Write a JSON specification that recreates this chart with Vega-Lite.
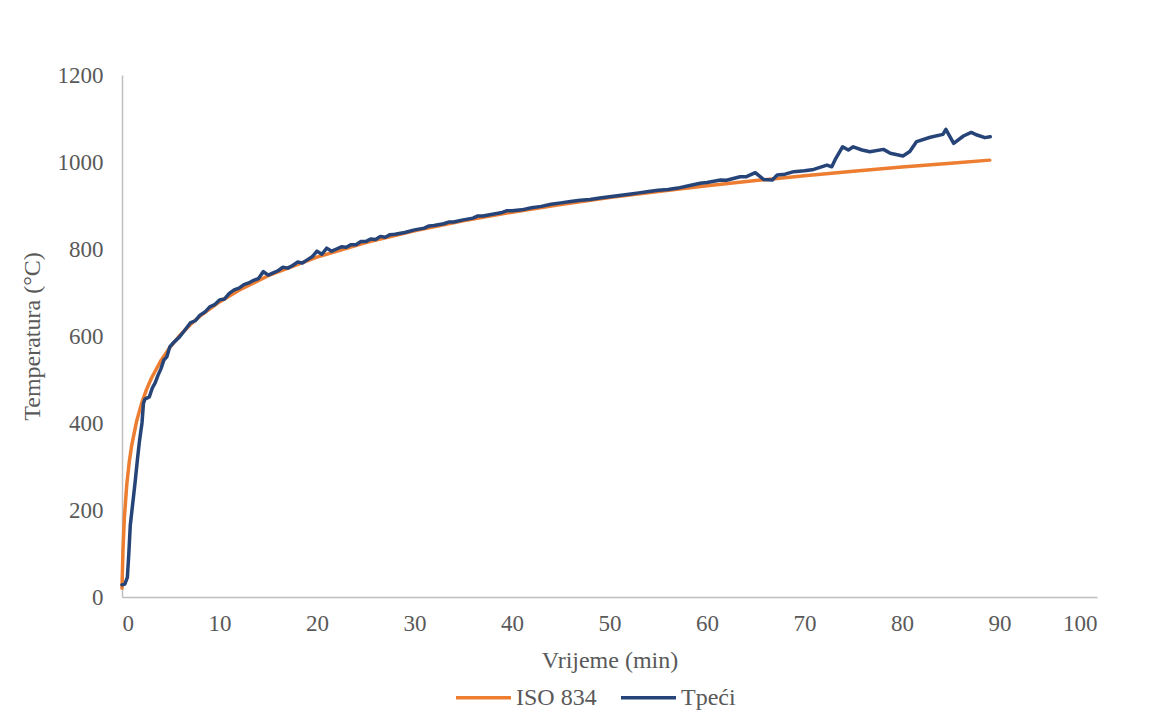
{
  "$schema": "https://vega.github.io/schema/vega-lite/v6.json",
  "width": 975,
  "height": 522,
  "autosize": {"type": "none"},
  "padding": {"left": 122, "top": 75, "right": 63, "bottom": 129},
  "background": "white",
  "config": {
    "view": {"stroke": null},
    "font": "Liberation Serif",
    "axis": {
      "labelFont": "Liberation Serif",
      "titleFont": "Liberation Serif",
      "labelColor": "#595959",
      "titleColor": "#595959",
      "labelFontSize": 23,
      "titleFontSize": 24,
      "titleFontWeight": "normal",
      "domainColor": "#bfbfbf",
      "domainWidth": 1.5,
      "ticks": false,
      "grid": false
    },
    "legend": {
      "labelFont": "Liberation Serif",
      "labelFontSize": 24,
      "labelColor": "#595959"
    },
    "text": {"font": "Liberation Serif"}
  },
  "data": {
    "values": [
      {"series": "ISO 834", "t": 0, "T": 20},
      {"series": "ISO 834", "t": 0.1, "T": 108.1},
      {"series": "ISO 834", "t": 0.25, "T": 184.6},
      {"series": "ISO 834", "t": 0.5, "T": 261.2},
      {"series": "ISO 834", "t": 0.75, "T": 311.6},
      {"series": "ISO 834", "t": 1, "T": 349.2},
      {"series": "ISO 834", "t": 1.5, "T": 404.3},
      {"series": "ISO 834", "t": 2, "T": 444.5},
      {"series": "ISO 834", "t": 2.5, "T": 476.2},
      {"series": "ISO 834", "t": 3, "T": 502.3},
      {"series": "ISO 834", "t": 4, "T": 543.9},
      {"series": "ISO 834", "t": 5, "T": 576.4},
      {"series": "ISO 834", "t": 6, "T": 603.1},
      {"series": "ISO 834", "t": 7, "T": 625.8},
      {"series": "ISO 834", "t": 8, "T": 645.5},
      {"series": "ISO 834", "t": 10, "T": 678.4},
      {"series": "ISO 834", "t": 12, "T": 705.4},
      {"series": "ISO 834", "t": 15, "T": 738.6},
      {"series": "ISO 834", "t": 20, "T": 781.3},
      {"series": "ISO 834", "t": 25, "T": 814.6},
      {"series": "ISO 834", "t": 30, "T": 841.8},
      {"series": "ISO 834", "t": 35, "T": 864.8},
      {"series": "ISO 834", "t": 40, "T": 884.7},
      {"series": "ISO 834", "t": 45, "T": 902.3},
      {"series": "ISO 834", "t": 50, "T": 918.1},
      {"series": "ISO 834", "t": 55, "T": 932.3},
      {"series": "ISO 834", "t": 60, "T": 945.3},
      {"series": "ISO 834", "t": 65, "T": 957.3},
      {"series": "ISO 834", "t": 70, "T": 968.4},
      {"series": "ISO 834", "t": 75, "T": 978.7},
      {"series": "ISO 834", "t": 80, "T": 988.4},
      {"series": "ISO 834", "t": 85, "T": 997.4},
      {"series": "ISO 834", "t": 89, "T": 1004.3},

      {"series": "Tpeći", "t": 0, "T": 28},
      {"series": "Tpeći", "t": 0.3, "T": 30},
      {"series": "Tpeći", "t": 0.55, "T": 45},
      {"series": "Tpeći", "t": 0.7, "T": 100},
      {"series": "Tpeći", "t": 0.85, "T": 165},
      {"series": "Tpeći", "t": 1.1, "T": 215},
      {"series": "Tpeći", "t": 1.35, "T": 265},
      {"series": "Tpeći", "t": 1.6, "T": 320},
      {"series": "Tpeći", "t": 1.8, "T": 360},
      {"series": "Tpeći", "t": 2.05, "T": 400},
      {"series": "Tpeći", "t": 2.2, "T": 445},
      {"series": "Tpeći", "t": 2.35, "T": 455},
      {"series": "Tpeći", "t": 2.8, "T": 460},
      {"series": "Tpeći", "t": 3.1, "T": 480},
      {"series": "Tpeći", "t": 3.4, "T": 492},
      {"series": "Tpeći", "t": 3.7, "T": 510},
      {"series": "Tpeći", "t": 4.0, "T": 525},
      {"series": "Tpeći", "t": 4.3, "T": 545},
      {"series": "Tpeći", "t": 4.6, "T": 552},
      {"series": "Tpeći", "t": 4.9, "T": 575},
      {"series": "Tpeći", "t": 5.3, "T": 585},
      {"series": "Tpeći", "t": 5.9, "T": 598},
      {"series": "Tpeći", "t": 6.4, "T": 612},
      {"series": "Tpeći", "t": 7.0, "T": 630},
      {"series": "Tpeći", "t": 7.5, "T": 635},
      {"series": "Tpeći", "t": 8.0, "T": 648},
      {"series": "Tpeći", "t": 8.5, "T": 655},
      {"series": "Tpeći", "t": 9.0, "T": 667},
      {"series": "Tpeći", "t": 9.5, "T": 672},
      {"series": "Tpeći", "t": 10, "T": 683},
      {"series": "Tpeći", "t": 10.5, "T": 685},
      {"series": "Tpeći", "t": 11, "T": 698},
      {"series": "Tpeći", "t": 11.5, "T": 706},
      {"series": "Tpeći", "t": 12, "T": 710},
      {"series": "Tpeći", "t": 12.5, "T": 718},
      {"series": "Tpeći", "t": 13, "T": 722},
      {"series": "Tpeći", "t": 13.5, "T": 728},
      {"series": "Tpeći", "t": 14, "T": 732},
      {"series": "Tpeći", "t": 14.5, "T": 748},
      {"series": "Tpeći", "t": 15, "T": 740},
      {"series": "Tpeći", "t": 15.5, "T": 745},
      {"series": "Tpeći", "t": 16, "T": 750},
      {"series": "Tpeći", "t": 16.5, "T": 758},
      {"series": "Tpeći", "t": 17, "T": 756},
      {"series": "Tpeći", "t": 17.5, "T": 762},
      {"series": "Tpeći", "t": 18, "T": 770},
      {"series": "Tpeći", "t": 18.5, "T": 768},
      {"series": "Tpeći", "t": 19, "T": 775},
      {"series": "Tpeći", "t": 19.5, "T": 782},
      {"series": "Tpeći", "t": 20, "T": 795},
      {"series": "Tpeći", "t": 20.5, "T": 788},
      {"series": "Tpeći", "t": 21, "T": 802},
      {"series": "Tpeći", "t": 21.5, "T": 795},
      {"series": "Tpeći", "t": 22, "T": 800},
      {"series": "Tpeći", "t": 22.5, "T": 805},
      {"series": "Tpeći", "t": 23, "T": 804},
      {"series": "Tpeći", "t": 23.5, "T": 810},
      {"series": "Tpeći", "t": 24, "T": 810},
      {"series": "Tpeći", "t": 24.5, "T": 817},
      {"series": "Tpeći", "t": 25, "T": 817},
      {"series": "Tpeći", "t": 25.5, "T": 823},
      {"series": "Tpeći", "t": 26, "T": 822},
      {"series": "Tpeći", "t": 26.5, "T": 829},
      {"series": "Tpeći", "t": 27, "T": 827},
      {"series": "Tpeći", "t": 27.5, "T": 833},
      {"series": "Tpeći", "t": 28, "T": 834},
      {"series": "Tpeći", "t": 29, "T": 838},
      {"series": "Tpeći", "t": 30, "T": 844},
      {"series": "Tpeći", "t": 31, "T": 848},
      {"series": "Tpeći", "t": 31.5, "T": 853},
      {"series": "Tpeći", "t": 32, "T": 854},
      {"series": "Tpeći", "t": 33, "T": 858},
      {"series": "Tpeći", "t": 33.5, "T": 862},
      {"series": "Tpeći", "t": 34, "T": 862},
      {"series": "Tpeći", "t": 35, "T": 867},
      {"series": "Tpeći", "t": 36, "T": 871},
      {"series": "Tpeći", "t": 36.5, "T": 876},
      {"series": "Tpeći", "t": 37, "T": 876},
      {"series": "Tpeći", "t": 38, "T": 880},
      {"series": "Tpeći", "t": 39, "T": 884},
      {"series": "Tpeći", "t": 39.5, "T": 888},
      {"series": "Tpeći", "t": 40, "T": 888},
      {"series": "Tpeći", "t": 41, "T": 890},
      {"series": "Tpeći", "t": 42, "T": 895},
      {"series": "Tpeći", "t": 43, "T": 898},
      {"series": "Tpeći", "t": 44, "T": 903},
      {"series": "Tpeći", "t": 45, "T": 906},
      {"series": "Tpeći", "t": 46, "T": 909},
      {"series": "Tpeći", "t": 47, "T": 912},
      {"series": "Tpeći", "t": 48, "T": 914},
      {"series": "Tpeći", "t": 49, "T": 917},
      {"series": "Tpeći", "t": 50, "T": 920},
      {"series": "Tpeći", "t": 51, "T": 923},
      {"series": "Tpeći", "t": 52, "T": 926},
      {"series": "Tpeći", "t": 53, "T": 929},
      {"series": "Tpeći", "t": 54, "T": 932},
      {"series": "Tpeći", "t": 55, "T": 935},
      {"series": "Tpeći", "t": 56, "T": 937},
      {"series": "Tpeći", "t": 57, "T": 940},
      {"series": "Tpeći", "t": 58, "T": 945},
      {"series": "Tpeći", "t": 59.3, "T": 951},
      {"series": "Tpeći", "t": 60, "T": 953},
      {"series": "Tpeći", "t": 61.4, "T": 958.6},
      {"series": "Tpeći", "t": 62, "T": 958},
      {"series": "Tpeći", "t": 63.4, "T": 966},
      {"series": "Tpeći", "t": 64, "T": 966},
      {"series": "Tpeći", "t": 64.95, "T": 975.5},
      {"series": "Tpeći", "t": 65.8, "T": 960},
      {"series": "Tpeći", "t": 66.7, "T": 958.6},
      {"series": "Tpeći", "t": 67.2, "T": 970},
      {"series": "Tpeći", "t": 68, "T": 972},
      {"series": "Tpeći", "t": 68.9, "T": 977.8},
      {"series": "Tpeći", "t": 70, "T": 980},
      {"series": "Tpeći", "t": 70.95, "T": 983},
      {"series": "Tpeći", "t": 72.3, "T": 993},
      {"series": "Tpeći", "t": 72.8, "T": 989},
      {"series": "Tpeći", "t": 73.2, "T": 1008},
      {"series": "Tpeći", "t": 73.9, "T": 1035},
      {"series": "Tpeći", "t": 74.5, "T": 1027.6},
      {"series": "Tpeći", "t": 75, "T": 1035},
      {"series": "Tpeći", "t": 75.9, "T": 1027.6},
      {"series": "Tpeći", "t": 76.7, "T": 1023.7},
      {"series": "Tpeći", "t": 78.1, "T": 1029},
      {"series": "Tpeći", "t": 78.8, "T": 1020},
      {"series": "Tpeći", "t": 80.1, "T": 1013.8},
      {"series": "Tpeći", "t": 80.8, "T": 1024},
      {"series": "Tpeći", "t": 81.5, "T": 1047},
      {"series": "Tpeći", "t": 82.9, "T": 1056.8},
      {"series": "Tpeći", "t": 84.2, "T": 1063.6},
      {"series": "Tpeći", "t": 84.5, "T": 1075},
      {"series": "Tpeći", "t": 85.3, "T": 1043},
      {"series": "Tpeći", "t": 86.3, "T": 1059.8},
      {"series": "Tpeći", "t": 87.1, "T": 1068},
      {"series": "Tpeći", "t": 87.7, "T": 1062},
      {"series": "Tpeći", "t": 88.5, "T": 1056},
      {"series": "Tpeći", "t": 89.05, "T": 1058}
    ]
  },
  "mark": {"type": "line", "strokeWidth": 3.5, "strokeJoin": "round", "strokeCap": "round"},
  "encoding": {
    "x": {
      "field": "t",
      "type": "quantitative",
      "scale": {"domain": [0, 100], "nice": false},
      "axis": {"values": [0,10,20,30,40,50,60,70,80,90,100], "format": "d", "title": "Vrijeme (min)", "labelPadding": 15, "titlePadding": 13}
    },
    "y": {
      "field": "T",
      "type": "quantitative",
      "scale": {"domain": [0, 1200], "nice": false},
      "axis": {"values": [0,200,400,600,800,1000,1200], "format": "d", "title": "Temperatura (°C)", "labelPadding": 19, "titlePadding": 13}
    },
    "color": {
      "field": "series",
      "type": "nominal",
      "scale": {"domain": ["ISO 834", "Tpeći"], "range": ["#ED7D31", "#264478"]},
      "legend": {
        "title": null,
        "orient": "none",
        "legendX": 332,
        "legendY": 593,
        "direction": "horizontal",
        "symbolType": "stroke",
        "symbolSize": 3025,
        "symbolStrokeWidth": 3.5,
        "labelOffset": 3,
        "columnPadding": 17,
        "labelFont": "Liberation Serif"
      }
    },
    "order": {"field": "t", "type": "quantitative"}
  }
}
